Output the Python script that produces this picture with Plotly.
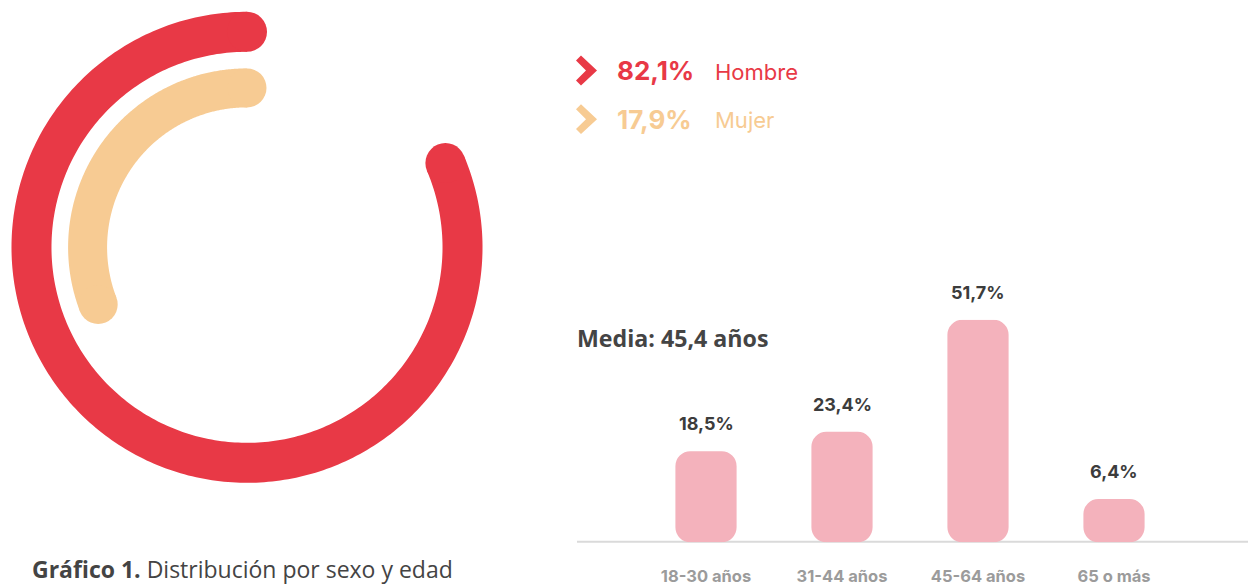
import numpy as np
import plotly.graph_objects as go

W, H = 1248, 586

# ---- data ----
sex_labels = ["Hombre", "Mujer"]
sex_pct = [82.1, 17.9]
sex_pct_text = ["82,1%", "17,9%"]
sex_arc_deg = [293.0, 111.0]          # arc sweep
sex_colors = ["#E83946", "#F7CB93"]

age_groups = ["18-30 años", "31-44 años", "45-64 años", "65 o más"]
age_pct = [18.5, 23.4, 51.7, 6.4]
age_pct_text = ["18,5%", "23,4%", "51,7%", "6,4%"]
media_text = "Media: 45,4 años"

def px(x):
    return x / W

def py(y):
    return 1 - y / H

fig = go.Figure()

# ---- radial arcs ----
ring_r = [217, 160.5]
ring_w = [40, 39]
for i in range(2):
    th = np.linspace(0, sex_arc_deg[i], 300)
    fig.add_trace(go.Scatterpolar(
        r=[ring_r[i]] * len(th), theta=th, mode="lines",
        line=dict(color=sex_colors[i], width=ring_w[i]),
        hoverinfo="skip", showlegend=False, subplot="polar"))
    fig.add_trace(go.Scatterpolar(
        r=[ring_r[i], ring_r[i]], theta=[0, sex_arc_deg[i]], mode="markers",
        marker=dict(color=sex_colors[i], size=ring_w[i], line=dict(width=0)),
        hoverinfo="skip", showlegend=False, subplot="polar"))

R = 245
cx, cy = 247, 249
fig.update_layout(polar=dict(
    domain=dict(x=[px(cx - R), px(cx + R)], y=[py(cy + R), py(cy - R)]),
    bgcolor="rgba(0,0,0,0)",
    radialaxis=dict(range=[0, R], visible=False),
    angularaxis=dict(visible=False, rotation=90, direction="counterclockwise"),
    hole=0,
))

# ---- bars (floating bars -> rounded at both ends) ----
base_off = -4.5
pink = "#F4B2BC"
fig.add_trace(go.Bar(
    x=age_groups, base=[base_off] * len(age_pct),
    y=[v - base_off for v in age_pct],
    marker=dict(color=pink, cornerradius=15, line=dict(width=0)),
    width=0.45, hoverinfo="skip", showlegend=False, xaxis="x", yaxis="y"))

for g, v, t in zip(age_groups, age_pct, age_pct_text):
    fig.add_annotation(x=g, y=v, xref="x", yref="y", text="<b>" + t + "</b>",
                       showarrow=False, yanchor="bottom", yshift=15,
                       font=dict(family="Inter", size=18, color="#3C3C3C"))

fig.update_layout(
    barmode="overlay",
    xaxis=dict(domain=[px(638), px(1182)], range=[-0.5, 3.5],
               showgrid=False, zeroline=False, showline=False,
               ticks="outside", ticklen=19, tickcolor="rgba(0,0,0,0)",
               tickfont=dict(family="Inter", size=16.5, color="#9B9B9B"),
               fixedrange=True),
    yaxis=dict(domain=[py(546), py(322)], range=[base_off, 51.7],
               visible=False, fixedrange=True),
)
fig.update_xaxes(tickvals=age_groups,
                 ticktext=["<b>" + a + "</b>" for a in age_groups])

# baseline
fig.add_shape(type="line", xref="paper", yref="paper",
              x0=px(577), x1=1, y0=py(545.5), y1=py(545.5),
              line=dict(color="#DADADA", width=2), layer="below")

# ---- legend ----
leg_y = [71, 120]
for i in range(2):
    yc = leg_y[i]
    pts = [(576, yc - 10), (581, yc - 15), (597, yc), (581, yc + 15), (576, yc + 10), (586, yc)]
    path = "M " + " L ".join(f"{px(a):.5f},{py(b):.5f}" for a, b in pts) + " Z"
    fig.add_shape(type="path", xref="paper", yref="paper", path=path,
                  fillcolor=sex_colors[i], line=dict(width=0))
    fig.add_annotation(x=px(615), y=py(yc), xref="paper", yref="paper",
                       text="<b>" + sex_pct_text[i] + "</b>", showarrow=False,
                       xanchor="left", yanchor="middle",
                       font=dict(family="Inter", size=26, color=sex_colors[i]))
    fig.add_annotation(x=px(713), y=py(yc + 1), xref="paper", yref="paper",
                       text=sex_labels[i], showarrow=False,
                       xanchor="left", yanchor="middle",
                       font=dict(family="Inter", size=22, color=sex_colors[i]))

fig.add_annotation(x=px(575), y=py(340), xref="paper", yref="paper",
                   text="<b>" + media_text + "</b>", showarrow=False,
                   xanchor="left", yanchor="middle",
                   font=dict(family="Open Sans", size=23.2, color="#444444"))

fig.add_annotation(x=px(30), y=py(573), xref="paper", yref="paper",
                   text="<b>Gráfico 1.</b> Distribución por sexo y edad",
                   showarrow=False, xanchor="left", yanchor="middle",
                   font=dict(family="Open Sans", size=23, color="#444444"))

fig.update_layout(width=W, height=H, margin=dict(l=0, r=0, t=0, b=0),
                  paper_bgcolor="white", plot_bgcolor="rgba(0,0,0,0)")

fig.write_html("out.html", config={"displayModeBar": False},
               post_script="document.body.style.margin='0';document.body.style.overflow='hidden';")
